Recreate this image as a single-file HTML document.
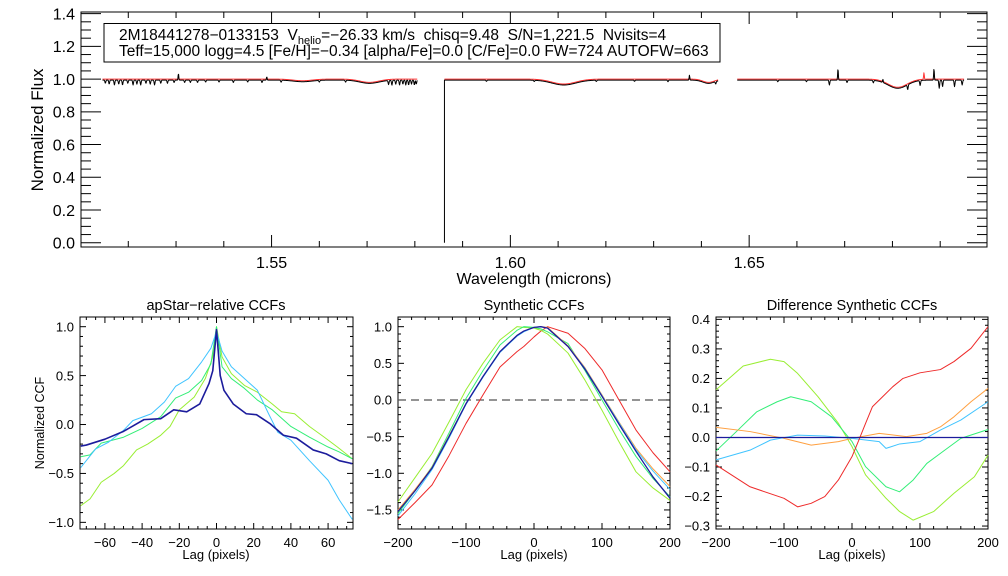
<!DOCTYPE html>
<html><head><meta charset="utf-8">
<style>
html,body{margin:0;padding:0;background:#fff;}
svg{display:block;font-family:"Liberation Sans",sans-serif;}
</style></head>
<body>
<svg id="fig" width="1008" height="576" viewBox="0 0 1008 576" xmlns="http://www.w3.org/2000/svg">
<rect width="1008" height="576" fill="#fff"/>
</svg>
<script>
// ---------- Spectrum data ----------
const specSegments = [[1.5146,1.5805],[1.5862,1.6435],[1.6475,1.6950]];
const broadCenters = [1.5565,1.5705,1.6112,1.6415,1.6811];
const broadDepths  = [0.010,0.020,0.030,0.020,0.050];
const broadWidths  = [0.0020,0.0020,0.0025,0.0012,0.0020];
const lineCenters = [1.5152,1.5160,1.5171,1.5180,1.5188,1.5199,1.5210,1.5218,1.5226,1.5237,1.5246,1.5255,1.5268,1.5282,1.5296,1.5318,1.5330,1.5345,1.5362,1.5390,1.5420,1.5450,1.5480,1.5520,1.5600,1.5655,1.5745,1.5752,1.5760,1.5768,1.5775,1.5781,1.5787,1.5793,1.5799,1.5803,1.5950,1.6050,1.6180,1.6260,1.6330,1.6430,1.6560,1.6620,1.6668,1.6705,1.6760,1.6832,1.6858,1.6898,1.6905,1.6930,1.6946];
const lineDepths  = [0.02,0.025,0.03,0.025,0.03,0.02,0.03,0.025,0.03,0.02,0.025,0.03,0.02,0.02,0.015,0.015,0.015,0.015,0.012,0.012,0.015,0.012,0.015,0.012,0.01,0.012,0.025,0.03,0.025,0.03,0.025,0.03,0.03,0.025,0.03,0.025,0.008,0.008,0.008,0.008,0.01,0.015,0.01,0.01,0.03,0.015,0.015,0.03,0.03,0.05,0.04,0.04,0.03];
const spikeCenters = [1.5305,1.5490,1.6375,1.6686,1.6887,1.6780];
const spikeHeights = [0.04,0.02,0.03,0.07,0.07,0.02];
const modelSpikeCenters = [1.6866];
const modelSpikeHeights = [0.04];

// ---------- CCF data ----------
const p1LagsNavy = [-73,-70,-60,-50,-39,-30,-23,-16,-9,-4,-2,0,2,4,9,16,21.5,28.7,36,43,52,59,66,73];
const p1LagsCyan = [-73,-65,-58,-50,-45,-35,-28,-22,-15,-8,-3,0,3,8,15,22,28,33,40,50,60,66,73];
const p1LagsGreen = [-73,-68,-62,-50,-40,-30,-22,-15,-8,-3,0,3,8,15,22,30,40,50,60,66,73];
const p1LagsYG = [-73,-68,-62,-55,-50,-43,-37,-30,-25,-20,-12,-6,-2,0,3,8,15,22,30,35,42,50,58,65,73];
const p1Navy  = [-0.22,-0.21,-0.15,-0.07,0.05,0.06,0.15,0.13,0.21,0.42,0.55,0.97,0.5,0.35,0.21,0.11,0.1,0.01,-0.11,-0.14,-0.26,-0.30,-0.37,-0.40];
const p1Cyan  = [-0.44,-0.25,-0.18,-0.06,0.04,0.11,0.23,0.39,0.47,0.64,0.78,0.95,0.75,0.59,0.47,0.35,0.11,-0.08,-0.16,-0.37,-0.57,-0.77,-0.97];
const p1Green = [-0.33,-0.31,-0.19,-0.13,-0.04,0.08,0.27,0.33,0.45,0.62,1.0,0.59,0.47,0.37,0.25,0.15,-0.02,-0.13,-0.23,-0.28,-0.35];
const p1YG    = [-0.83,-0.76,-0.59,-0.50,-0.42,-0.26,-0.20,-0.11,-0.02,0.15,0.28,0.47,0.69,1.0,0.69,0.52,0.40,0.33,0.21,0.13,0.11,-0.02,-0.13,-0.23,-0.35];

const p2Lags = [-200,-175,-150,-125,-100,-75,-50,-25,-15,0,10,20,50,75,100,125,150,175,200];
const p2YG     = [-1.39,-1.06,-0.73,-0.30,0.14,0.50,0.82,1.0,0.99,0.98,0.95,0.90,0.64,0.27,-0.14,-0.57,-0.98,-1.20,-1.37];
const p2Green  = [-1.55,-1.24,-0.91,-0.45,0.02,0.40,0.75,0.95,1.0,0.99,0.97,0.93,0.77,0.40,0.0,-0.40,-0.77,-1.07,-1.32];
const p2Navy   = [-1.52,-1.24,-0.93,-0.50,-0.05,0.32,0.66,0.88,0.94,0.99,1.0,0.98,0.73,0.42,0.05,-0.33,-0.70,-1.05,-1.34];
const p2Cyan   = [-1.58,-1.28,-0.95,-0.52,-0.06,0.31,0.65,0.87,0.93,0.99,1.0,0.98,0.73,0.43,0.06,-0.31,-0.68,-0.97,-1.22];
const p2Orange = [-1.50,-1.22,-0.92,-0.49,-0.05,0.32,0.66,0.88,0.94,0.99,1.0,0.99,0.74,0.44,0.07,-0.30,-0.66,-0.94,-1.18];
const p2Red    = [-1.63,-1.40,-1.16,-0.76,-0.32,0.07,0.45,0.66,0.73,0.86,0.94,1.0,0.91,0.70,0.41,0.0,-0.41,-0.72,-0.98];

const p3LagsRed = [-200,-150,-100,-80,-60,-40,-20,0,10,20,30,45,60,75,100,130,150,175,200];
const p3Red = [-0.093,-0.167,-0.206,-0.235,-0.223,-0.2,-0.144,-0.065,-0.009,0.048,0.104,0.138,0.172,0.2,0.219,0.23,0.257,0.302,0.375];
const p3LagsOr = [-200,-150,-100,-60,-20,0,40,80,110,130,150,175,200];
const p3Orange = [0.034,0.02,-0.003,-0.026,-0.014,-0.003,0.014,0.003,0.014,0.036,0.07,0.121,0.166];
const p3LagsCy = [-200,-150,-120,-80,-40,0,40,50,70,100,130,160,200];
const p3Cyan = [-0.076,-0.043,-0.009,0.008,0.005,-0.003,-0.014,-0.037,-0.022,-0.014,0.025,0.059,0.121];
const p3LagsGr = [-200,-170,-140,-110,-90,-60,-30,-10,0,20,50,70,90,110,130,160,200];
const p3Green = [-0.046,0.02,0.087,0.121,0.138,0.121,0.07,0.014,-0.014,-0.099,-0.167,-0.184,-0.144,-0.088,-0.054,-0.003,0.027];
const p3LagsYG = [-200,-160,-120,-100,-80,-50,-20,0,20,50,70,90,120,150,180,200];
const p3YG = [0.161,0.242,0.265,0.257,0.217,0.138,0.048,-0.031,-0.127,-0.206,-0.251,-0.28,-0.251,-0.189,-0.133,-0.06];
const p3LagsNavy = [-200,200];
const p3Navy = [0,0];

const topXTicks = [1.55,1.60,1.65];
const topXLabels = ["1.55","1.60","1.65"];
const topYTicks = [0,0.2,0.4,0.6,0.8,1.0,1.2,1.4];
const topYLabels = ["0.0","0.2","0.4","0.6","0.8","1.0","1.2","1.4"];

const C = {navy:"#1c1c9c",cyan:"#40c4ff",green:"#33ee77",yg:"#99ee33",orange:"#ffa040",red:"#ee2a2a"};
const NS = "http://www.w3.org/2000/svg";
const fig = document.getElementById('fig');

function mk(tag, attrs, parent){
  const e = document.createElementNS(NS, tag);
  for (const k in attrs) e.setAttribute(k, attrs[k]);
  (parent||fig).appendChild(e);
  return e;
}
function txt(s, x, y, size, anchor, parent){
  const t = mk('text',{x:x,y:y,'font-size':size,'text-anchor':anchor||'middle',fill:'#000'},parent);
  t.textContent = s;
  return t;
}

function makeAxes(o){
  const g = mk('g',{});
  
  
  const sx = v => o.x0 + (v-o.xmin)/(o.xmax-o.xmin)*(o.x1-o.x0);
  const sy = v => o.y1 - (v-o.ymin)/(o.ymax-o.ymin)*(o.y1-o.y0);
  const ax = mk('g',{stroke:'#000','stroke-width':1,fill:'none'},g);
  
  
  mk('rect',{x:o.x0,y:o.y0,width:o.x1-o.x0,height:o.y1-o.y0},ax);
  const eps=1e-9;
  for (let k=Math.ceil(o.xmin/o.xMin-eps); k*o.xMin<=o.xmax+eps; k++){
    const v = k*o.xMin;
    const isMaj = Math.abs(v/o.xMaj-Math.round(v/o.xMaj))<1e-6;
    const L = isMaj?o.tickLen:o.minLen, x=sx(v);
    mk('line',{x1:x,y1:o.y1,x2:x,y2:o.y1-L},ax);
    mk('line',{x1:x,y1:o.y0,x2:x,y2:o.y0+L},ax);
  }
  for (let k=Math.ceil(o.ymin/o.yMin-eps); k*o.yMin<=o.ymax+eps; k++){
    const v = k*o.yMin;
    const isMaj = Math.abs(v/o.yMaj-Math.round(v/o.yMaj))<1e-6;
    const L = isMaj?(o.tickLenX||o.tickLen):(o.minLenX||o.minLen), y=sy(v);
    mk('line',{x1:o.x0,y1:y,x2:o.x0+L,y2:y},ax);
    mk('line',{x1:o.x1,y1:y,x2:o.x1-L,y2:y},ax);
  }
  o.xTicks.forEach((v,i)=>{
    const t = txt(o.xLabels[i], sx(v), o.y1+o.fs+5, o.fs,'middle',g);
    
    
  });
  o.yTicks.forEach((v,i)=>{
    const t = txt(o.yLabels[i], o.x0-6, sy(v)+o.fs*0.36, o.fs,'end',g);
    
    
  });
  return {sx,sy,g};
}

function series(axes, xs, ys, color, w, name, dash){
  const d = xs.map((x,i)=>(i?'L':'M')+axes.sx(x).toFixed(2)+','+axes.sy(ys[i]).toFixed(2)).join('');
  const p = mk('path',{d:d,fill:'none',stroke:color,'stroke-width':w,'stroke-linejoin':'round'},axes.g);
  if (dash) p.setAttribute('stroke-dasharray',dash);
  
  
  return p;
}
function range(a,b,n){const r=[];for(let i=0;i<n;i++)r.push(a+(b-a)*i/(n-1));return r;}
function labs(arr,dec){return arr.map(v=>(v<0?'\u2212':'')+Math.abs(v).toFixed(dec));}

// ---------- Top panel ----------
const topAx = makeAxes({name:'spectrum-panel',x0:81,x1:987,y0:12,y1:247,xmin:1.5101,xmax:1.6998,ymin:-0.026,ymax:1.41,
  xMaj:0.05,xMin:0.01,yMaj:0.2,yMin:0.05,tickLen:12,minLen:6,tickLenX:20,minLenX:10,fs:16,
  xTicks:topXTicks,xLabels:topXLabels,yTicks:topYTicks,yLabels:topYLabels});
function model(w){
  let f = 1.0;
  broadCenters.forEach((c,i)=>{f -= broadDepths[i]*Math.exp(-0.5*((w-c)/broadWidths[i])**2);});
  return f;
}
function gl(w, cs, ds, s){let f=0; cs.forEach((c,i)=>{f+=ds[i]*Math.exp(-0.5*((w-c)/s)**2);}); return f;}
specSegments.forEach((seg,si)=>{
  const n = Math.round((seg[1]-seg[0])/0.00008);
  const ws = range(seg[0],seg[1],n);
  const mf = ws.map(w=>model(w)+gl(w,modelSpikeCenters,modelSpikeHeights,0.00007));
  const of = ws.map(w=>model(w)-0.006-gl(w,lineCenters,lineDepths,0.00009)+gl(w,spikeCenters,spikeHeights,0.00007));
  const ws2 = ws.slice();
  if (si===1){ ws2.unshift(seg[0]); of.unshift(0); }
  series(topAx, ws, mf, '#ff3030', 1, 'model-spectrum-line');
  series(topAx, ws2, of, '#000', 1, 'observed-spectrum-line');
});
let t;
t = txt('Normalized Flux', 0, 0, 17, 'middle');
t.setAttribute('transform','translate(43,130) rotate(-90)');
 
t = txt('Wavelength (microns)', 534, 284, 16, 'middle');
 
const box = mk('rect',{x:104,y:23.5,width:616,height:38.5,fill:'#fff',stroke:'#000','stroke-width':1});
 
const l1 = mk('text',{x:119,y:40,'font-size':15.5,fill:'#000'});
 
l1.style.whiteSpace='pre';
const s1 = mk('tspan',{},l1); s1.textContent = '2M18441278\u22120133153  V';
const s2 = mk('tspan',{'font-size':11,dy:4},l1); s2.textContent = 'helio';
const s3 = mk('tspan',{dy:-4},l1); s3.textContent = '=\u221226.33 km/s  chisq=9.48  S/N=1,221.5  Nvisits=4';
const l2 = txt('Teff=15,000 logg=4.5 [Fe/H]=\u22120.34 [alpha/Fe]=0.0 [C/Fe]=0.0 FW=724 AUTOFW=663', 119, 56, 15.5, 'start');
 

// ---------- Panel 1 ----------
const a1 = makeAxes({name:'apstar-ccf-panel',x0:80,x1:353,y0:317,y1:529,xmin:-73.4,xmax:73.4,ymin:-1.068,ymax:1.099,
  xMaj:20,xMin:5,yMaj:0.5,yMin:0.1,tickLen:6,minLen:3,fs:13,
  xTicks:[-60,-40,-20,0,20,40,60],xLabels:labs([-60,-40,-20,0,20,40,60],0),
  yTicks:[-1,-0.5,0,0.5,1],yLabels:labs([-1,-0.5,0,0.5,1],1)});
series(a1,p1LagsYG,p1YG,C.yg,1,'apstar-ccf-yellowgreen');
series(a1,p1LagsGreen,p1Green,C.green,1,'apstar-ccf-green');
series(a1,p1LagsCyan,p1Cyan,C.cyan,1,'apstar-ccf-cyan');
series(a1,p1LagsNavy,p1Navy,C.navy,1.6,'apstar-ccf-navy');
t = txt('apStar\u2212relative CCFs',216,310,14.5);  
t = txt('Lag (pixels)',216,559,13);  
t = txt('Normalized CCF',0,0,12.5); t.setAttribute('transform','translate(44,423) rotate(-90)');
 

// ---------- Panel 2 ----------
const a2 = makeAxes({name:'synthetic-ccf-panel',x0:398,x1:670,y0:317,y1:529,xmin:-200,xmax:200,ymin:-1.76,ymax:1.132,
  xMaj:100,xMin:20,yMaj:0.5,yMin:0.1,tickLen:6,minLen:3,fs:13,
  xTicks:[-200,-100,0,100,200],xLabels:labs([-200,-100,0,100,200],0),
  yTicks:[-1.5,-1,-0.5,0,0.5,1],yLabels:labs([-1.5,-1,-0.5,0,0.5,1],1)});
series(a2,[-200,200],[0,0],'#555',1.3,'zero-dashed-line','8,5');
series(a2,p2Lags,p2Red,C.red,1,'synthetic-ccf-red');
series(a2,p2Lags,p2YG,C.yg,1,'synthetic-ccf-yellowgreen');
series(a2,p2Lags,p2Green,C.green,1,'synthetic-ccf-green');
series(a2,p2Lags,p2Orange,C.orange,1,'synthetic-ccf-orange');
series(a2,p2Lags,p2Cyan,C.cyan,1,'synthetic-ccf-cyan');
series(a2,p2Lags,p2Navy,C.navy,1.3,'synthetic-ccf-navy');
t = txt('Synthetic CCFs',534,310,14.5);  
t = txt('Lag (pixels)',534,559,13);  

// ---------- Panel 3 ----------
const a3 = makeAxes({name:'difference-ccf-panel',x0:716,x1:988,y0:317,y1:529,xmin:-200,xmax:200,ymin:-0.31,ymax:0.408,
  xMaj:100,xMin:20,yMaj:0.1,yMin:0.02,tickLen:6,minLen:3,fs:13,
  xTicks:[-200,-100,0,100,200],xLabels:labs([-200,-100,0,100,200],0),
  yTicks:[-0.3,-0.2,-0.1,0,0.1,0.2,0.3,0.4],yLabels:labs([-0.3,-0.2,-0.1,0,0.1,0.2,0.3,0.4],1)});
series(a3,p3LagsYG,p3YG,C.yg,1,'difference-ccf-yellowgreen');
series(a3,p3LagsGr,p3Green,C.green,1,'difference-ccf-green');
series(a3,p3LagsOr,p3Orange,C.orange,1,'difference-ccf-orange');
series(a3,p3LagsCy,p3Cyan,C.cyan,1,'difference-ccf-cyan');
series(a3,p3LagsRed,p3Red,C.red,1,'difference-ccf-red');
series(a3,p3LagsNavy,p3Navy,C.navy,1.3,'difference-ccf-navy');
t = txt('Difference Synthetic CCFs',852,310,14.5);  
t = txt('Lag (pixels)',852,559,13);  
</script>
</body></html>
